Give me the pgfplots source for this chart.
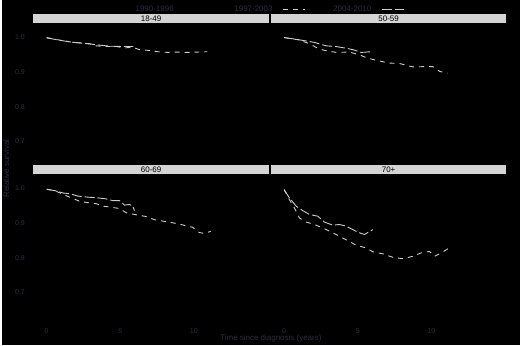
\documentclass[border=0pt]{standalone}
\usepackage{pgfplots}
\pgfplotsset{compat=1.18}
\usepackage{fontspec}
\setmainfont{Liberation Sans}
\definecolor{textdim}{RGB}{48,44,62}
\definecolor{stripgray}{RGB}{212,212,212}
\definecolor{linegray}{RGB}{205,205,205}
\pgfplotsset{
  panel/.style={
    scale only axis, width=236.3pt, height=136.5pt,
    xmin=-0.9, xmax=15.1, ymin=0.630, ymax=1.0236,
    axis line style={draw=none}, tick style={draw=none}, major tick length=0pt,
    xtick={0,5,10}, ytick={0.7,0.8,0.9,1.0},
    /pgf/number format/assume math mode=true,
    yticklabel style={font=\fontsize{7}{8}\selectfont, text=textdim, xshift=-5pt,
      /pgf/number format/fixed, /pgf/number format/precision=1, /pgf/number format/fixed zerofill},
    xticklabel style={font=\fontsize{7}{8}\selectfont, text=textdim, yshift=-9pt},
    title style={at={(0.5,1)}, anchor=south, fill=stripgray, minimum width=236.3pt,
      minimum height=9pt, inner sep=0pt, text=black, font=\fontsize{8}{9}\selectfont},
  },
  dashA/.style={linegray, line width=0.9pt, dash pattern=on 5pt off 5pt},
  dashB/.style={linegray, line width=0.9pt, dash pattern=on 10pt off 3pt},
}
\begin{document}
\begin{tikzpicture}[x=1pt,y=1pt]
\fill[black] (0,0) rectangle (520,346);
% ---------- 18-49 ----------
\begin{axis}[panel, at={(31.7pt,180pt)}, anchor=south west, title={18-49}, xticklabels={},
  legend style={at={(1.0,1.15)}, anchor=center, draw=none, fill=none, text=textdim,
    font=\fontsize{8}{9}\selectfont, legend columns=-1,
    /tikz/every odd column/.append style={column sep=8pt},
    /tikz/every even column/.append style={column sep=26pt}},
  legend plot pos=right,
  legend image code/.code={\draw[#1] (0pt,0pt) -- (22pt,0pt);}]
\addlegendimage{black, line width=0.9pt}
\addlegendimage{dashA}
\addlegendimage{dashB}
\legend{1990-1996,1997-2003,2004-2010}
\addplot[dashA] coordinates {(0,1.000) (0.56,0.995) (1.13,0.991) (1.80,0.986) (2.48,0.984) (2.93,0.982) (3.38,0.976) (3.94,0.974) (4.73,0.974) (5.29,0.970) (5.86,0.972) (6.30,0.965) (6.87,0.963) (7.55,0.959) (8.22,0.957) (8.90,0.958) (9.57,0.957) (10.25,0.958) (10.93,0.959)};
\addplot[dashB] coordinates {(0,0.999) (0.8,0.993) (1.6,0.987) (2.6,0.983) (3.4,0.979) (4.3,0.975) (5.2,0.974) (5.9,0.974)};
\end{axis}
% ---------- 50-59 ----------
\begin{axis}[panel, at={(270pt,180pt)}, anchor=south west, title={50-59}, xticklabels={}, yticklabels={}]
\addplot[dashA] coordinates {(0,1.000) (1.04,0.993) (1.72,0.982) (2.29,0.969) (2.74,0.963) (3.54,0.957) (4.44,0.958) (5.12,0.950) (5.58,0.942) (6.26,0.934) (7.17,0.926) (7.84,0.925) (8.76,0.915) (9.66,0.916) (10.1,0.916) (10.57,0.902) (11.1,0.897)};
\addplot[dashB] coordinates {(0,1.000) (0.82,0.995) (1.5,0.990) (2.06,0.986) (2.86,0.976) (3.54,0.974) (4.22,0.969) (4.67,0.965) (5.24,0.957) (5.92,0.959)};
\end{axis}
% ---------- 60-69 ----------
\begin{axis}[panel, at={(31.7pt,28.5pt)}, anchor=south west, title={60-69}]
\addplot[dashA] coordinates {(0,0.998) (0.6,0.993) (1.24,0.981) (1.69,0.973) (2.25,0.963) (2.82,0.959) (3.38,0.956) (3.83,0.949) (4.39,0.946) (4.95,0.942) (5.41,0.930) (5.97,0.925) (6.76,0.919) (7.32,0.910) (7.99,0.905) (8.56,0.901) (9.12,0.896) (9.91,0.888) (10.36,0.873) (10.7,0.870) (11.15,0.876)};
\addplot[dashB] coordinates {(0,0.998) (0.56,0.994) (1.13,0.987) (1.58,0.985) (2.14,0.978) (2.82,0.975) (3.49,0.973) (4.05,0.970) (4.5,0.965) (4.95,0.965) (5.29,0.952) (5.63,0.954) (5.86,0.949) (5.97,0.936)};
\end{axis}
% ---------- 70+ ----------
\begin{axis}[panel, at={(270pt,28.5pt)}, anchor=south west, title={70+}, yticklabels={}]
\addplot[dashA] coordinates {(0,0.997) (0.36,0.968) (0.70,0.944) (1.04,0.915) (1.50,0.903) (2.06,0.896) (2.74,0.884) (3.31,0.872) (3.76,0.862) (4.33,0.849) (4.9,0.836) (5.58,0.828) (6.03,0.817) (6.71,0.811) (7.39,0.801) (8.07,0.797) (8.76,0.804) (9.32,0.814) (9.88,0.818) (10.22,0.804) (10.56,0.811) (11.14,0.826)};
\addplot[dashB] coordinates {(0,0.997) (0.36,0.973) (0.82,0.949) (1.27,0.936) (1.72,0.925) (2.29,0.920) (2.74,0.903) (3.31,0.894) (3.76,0.896) (4.22,0.891) (4.67,0.881) (5.12,0.872) (5.46,0.867) (6.03,0.881)};
\end{axis}
\node[rotate=90, text=textdim, font=\fontsize{8}{9}\selectfont] at (4.5,177) {Relative survival};
\node[text=textdim, font=\fontsize{8}{9}\selectfont] at (270,6) {Time since diagnosis (years)};
\end{tikzpicture}
\end{document}
